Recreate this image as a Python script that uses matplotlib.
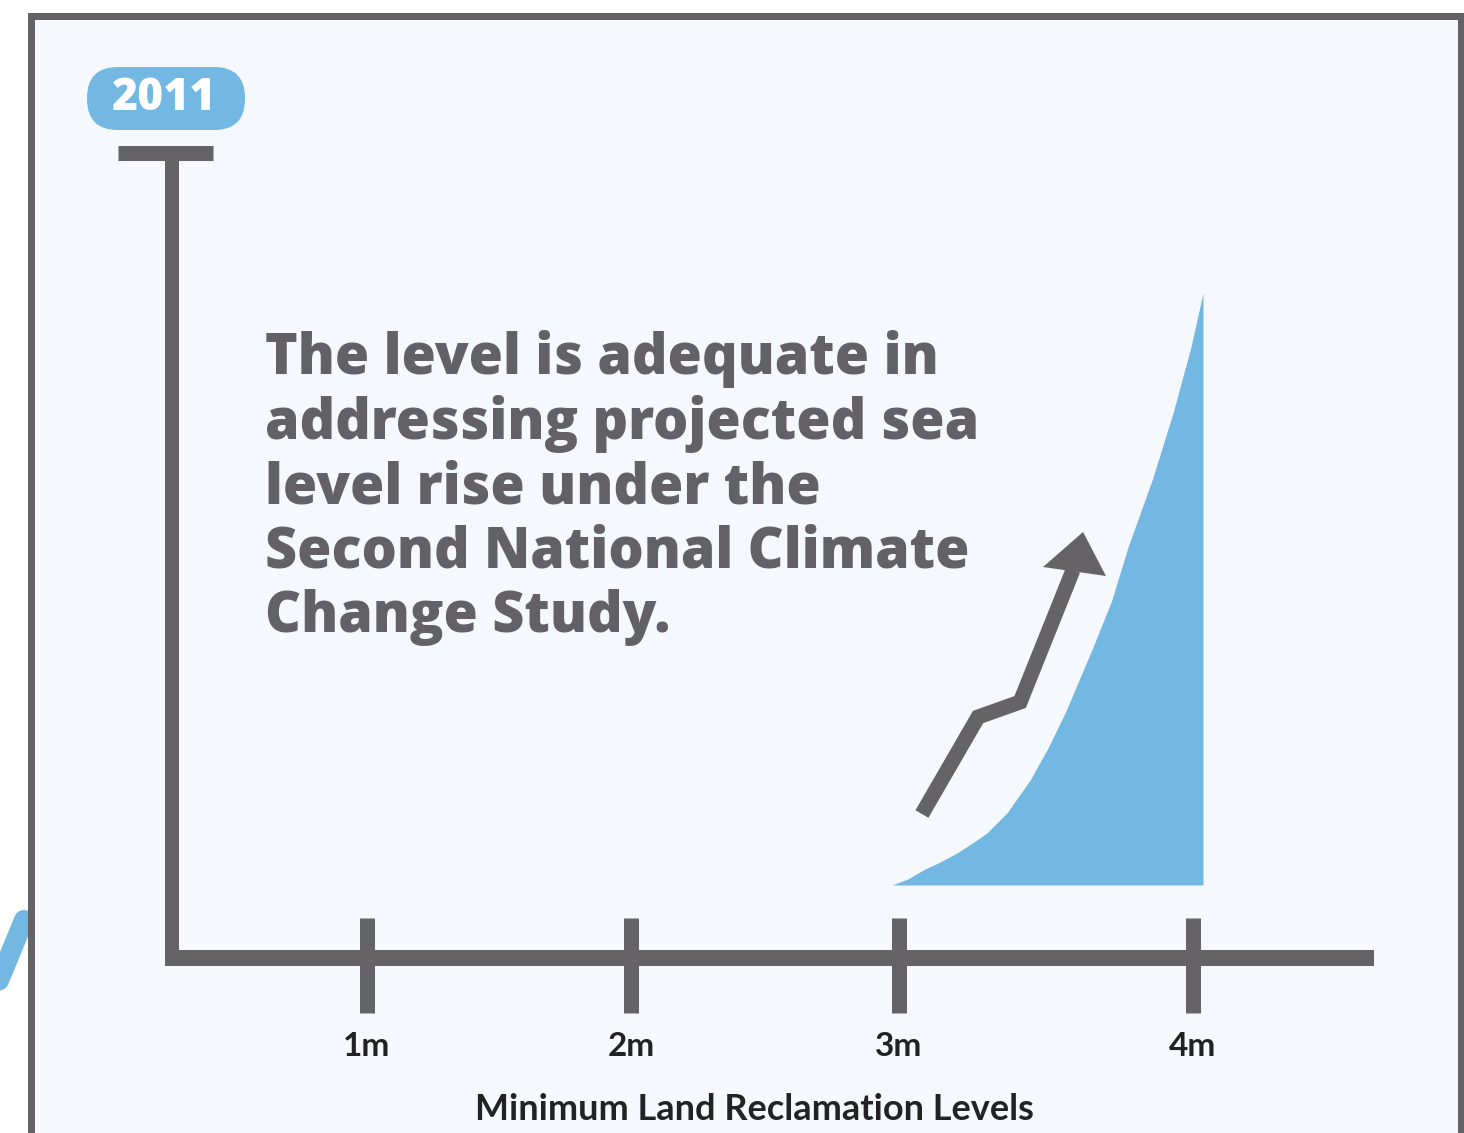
import numpy as np
import matplotlib
matplotlib.use("Agg")
import matplotlib.pyplot as plt
from matplotlib.patches import FancyBboxPatch, Rectangle, Polygon

# ---------------- data ----------------
levels = [1, 2, 3, 4]
level_labels = ["1m", "2m", "3m", "4m"]
x_title = "Minimum Land Reclamation Levels"
year_label = "2011"
message = ("The level is adequate in\naddressing projected sea\nlevel rise under the\n"
           "Second National Climate\nChange Study.")
# rising sea level curve (x in metres, y in arbitrary height units)
curve_x = [2.974, 3.030, 3.082, 3.140, 3.197, 3.250, 3.299, 3.367, 3.446, 3.505, 3.565,
           3.660, 3.724, 3.779, 3.861, 3.932, 3.993, 4.034]
curve_y = [0.73, 0.79, 0.88, 0.96, 1.05, 1.15, 1.25, 1.45, 1.78, 2.09, 2.45,
           3.11, 3.58, 4.11, 4.78, 5.45, 6.11, 6.65]
curve_base = 0.73
# trend arrow
arrow_x = [3.078, 3.269, 3.412, 3.592]
arrow_y = [1.44, 2.41, 2.56, 3.88]
arrow_tip = (3.626, 4.26)
arrow_head_l = (3.490, 3.91)
arrow_head_r = (3.704, 3.82)

# ---------------- style ----------------
GRAY = "#656366"
TEXT_GRAY = "#636165"
BLUE = "#72b8e2"
BG = "#f5f9fd"
W, H = 1464, 1133
DPI = 100
PX = 72.0 / DPI  # points per pixel

fig = plt.figure(figsize=(W / DPI, H / DPI), dpi=DPI)
fig.patch.set_facecolor("white")

# decoration axes in pixel coordinates
deco = fig.add_axes([0, 0, 1, 1])
deco.set_xlim(0, W)
deco.set_ylim(H, 0)
deco.axis("off")

# diagonal blue line peeking in from the left (behind the panel)
deco.plot([-14, 24], [1012, 920], color=BLUE, lw=20 * PX, solid_capstyle="round", zorder=1)
# panel
deco.add_patch(Rectangle((31, 16), 1430, 1200, facecolor=BG, edgecolor=GRAY,
                         lw=7 * PX, zorder=2))

# data axes (same footprint), x in metres on the chart's own (uneven) level scale
lvl_m = [-1, 0, 1, 2, 3, 4, 5, 6]
lvl_px = [-161, 103, 367, 631, 899, 1193, 1487, 1781]


def fwd(v):
    return np.interp(v, lvl_m, lvl_px)


def inv(p):
    return np.interp(p, lvl_px, lvl_m)


ax = fig.add_axes([0, 0, 1, 1])
ax.patch.set_alpha(0)
ax.axis("off")
ax.set_xscale("function", functions=(fwd, inv))
ax.set_xlim(inv(0), inv(W))
ax.set_ylim((958 - H) / 100, 958 / 100)

# year badge
deco.add_patch(FancyBboxPatch((87, 67), 158, 63, boxstyle="round,pad=0,rounding_size=31",
                              facecolor=BLUE, edgecolor="none", zorder=5))
deco.text(164, 99, year_label, color="white", fontsize=32, fontweight="heavy",
          family="Open Sans", ha="center", va="center", zorder=6)

# axes lines
ax.plot([0.261, 0.261], [8.05, -0.07], color=GRAY, lw=14 * PX, solid_capstyle="butt", zorder=4)
ax.plot([0.057, 0.417], [8.05, 8.05], color=GRAY, lw=15 * PX, solid_capstyle="butt", zorder=4)
ax.plot([0.235, 4.616], [0, 0], color=GRAY, lw=16 * PX, solid_capstyle="butt", zorder=4)
for lv, lab in zip(levels, level_labels):
    ax.plot([lv, lv], [0.40, -0.55], color=GRAY, lw=15 * PX, solid_capstyle="butt", zorder=4)
    ax.text(lv, -0.88, lab, color="#222222", fontsize=24, fontweight="bold",
            family="Lato", ha="center", va="center", zorder=5)
ax.text(2.459, -1.52, x_title, color="#222222", fontsize=26, fontweight="bold",
        family="Lato", ha="center", va="center", zorder=5)

# sea level area
ax.fill_between(curve_x, curve_y, curve_base, color=BLUE, lw=0, zorder=3)

# arrow
ax.plot(arrow_x, arrow_y, color=GRAY, lw=15 * PX, solid_capstyle="butt",
        solid_joinstyle="miter", zorder=4)
ax.add_patch(Polygon([arrow_head_l, arrow_tip, arrow_head_r], closed=True,
                     facecolor=GRAY, edgecolor="none", zorder=4))

# message
deco.text(265, 488, message, color=TEXT_GRAY, fontsize=40, fontweight="heavy",
          family="Open Sans", ha="left", va="center", linespacing=1.17, zorder=5)

fig.savefig("out.png", dpi=DPI, facecolor=fig.get_facecolor())
